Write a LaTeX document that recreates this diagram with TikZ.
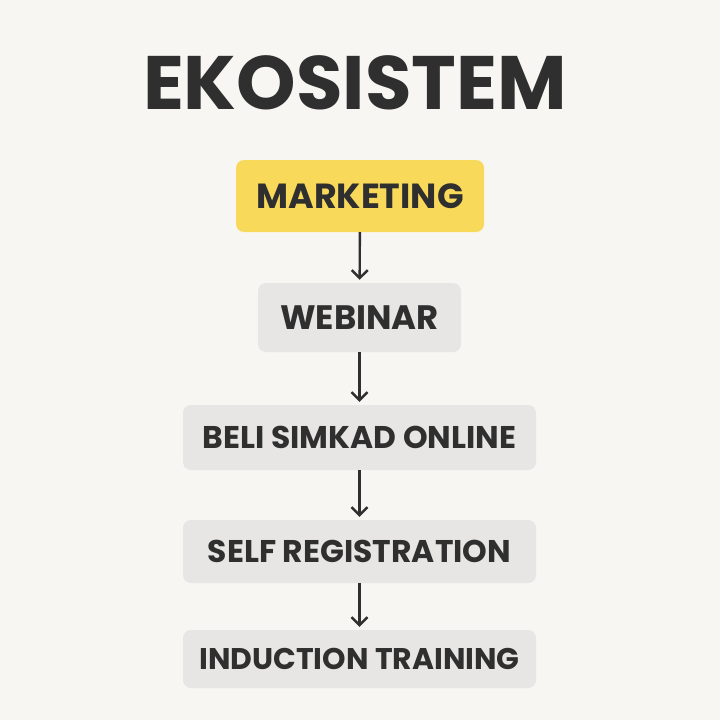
\documentclass[tikz,border=0pt]{standalone}
\usepackage{fontspec}
\setmainfont{Poppins}
\usepackage{xcolor}
\usetikzlibrary{positioning,arrows.meta}

\definecolor{bgpaper}{HTML}{F8F6F3}
\definecolor{markyellow}{HTML}{F9D95A}
\definecolor{boxgray}{HTML}{E7E6E4}
\definecolor{inkgray}{HTML}{2F2F2F}

\begin{document}
\begin{tikzpicture}[x=1bp,y=-1bp,
                    every node/.append style = {text=inkgray},
                    txt/.style = {font=\bfseries\fontsize{#1}{#1}\selectfont},
                    stepbox/.style = {fill=boxgray, rounded corners=8bp, inner sep=0pt},
                    hilite/.style = {stepbox, fill=markyellow},
                    flow/.style = {draw=inkgray, line width=2.4bp,
                                   -{Straight Barb[length=8bp,width=16bp]}, shorten >=3bp}]
                \fill[bgpaper] (0,0) rectangle (720,720);
                \useasboundingbox (0,0) rectangle (720,720);
                \node[txt=76] (title) at (355,83) {EKOSISTEM};
                \node[hilite, txt=35, minimum width=248bp, minimum height=72bp] (mkt) at (360,196) {MARKETING};
                \node[stepbox, txt=34, minimum width=203bp, minimum height=69bp] (web) at (359.5,317.5) {WEBINAR};
                \node[stepbox, txt=31.5, minimum width=353bp, minimum height=65bp] (beli) at (359.5,437.5) {BELI SIMKAD ONLINE};
                \node[stepbox, txt=31.5, minimum width=353bp, minimum height=63bp] (self) at (359.5,551.5) {SELF REGISTRATION};
                \node[stepbox, txt=30, minimum width=353bp, minimum height=58bp] (ind) at (359.5,659) {INDUCTION TRAINING};
                % arrows down the chain
                \foreach \a/\b in {mkt/web, web/beli, beli/self, self/ind}
                    \draw[flow] (\a) -- (\b);
                \end{tikzpicture}
\end{document}
